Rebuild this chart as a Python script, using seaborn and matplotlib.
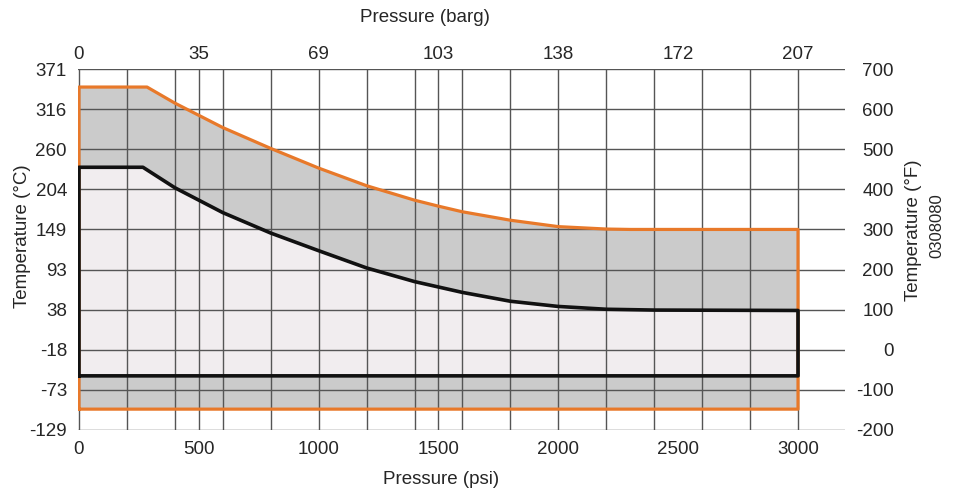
import numpy as np
import pandas as pd
import matplotlib
matplotlib.use("Agg")
import matplotlib.pyplot as plt
import seaborn as sns

# ---------------- data ----------------
psi_ticks = [0, 500, 1000, 1500, 2000, 2500, 3000]
psi_labels = ["0", "500", "1000", "1500", "2000", "2500", "3000"]
barg_labels = ["0", "35", "69", "103", "138", "172", "207"]
degF_ticks = [-200, -100, 0, 100, 200, 300, 400, 500, 600, 700]
degF_labels = ["-200", "-100", "0", "100", "200", "300", "400", "500", "600", "700"]
degC_labels = ["-129", "-73", "-18", "38", "93", "149", "204", "260", "316", "371"]

# outer (orange) envelope, °F
outer_psi = [0, 284, 400, 600, 800, 1000, 1200, 1400, 1500, 1600, 1800, 2000, 2200, 2300, 3000]
outer_top_F = [655, 655, 615, 554, 502, 453, 409, 373, 358, 344, 323, 307, 301, 300, 300]
outer_bottom_F = -148

# inner (black) envelope, °F
inner_psi = [0, 267, 400, 600, 800, 1000, 1200, 1400, 1600, 1800, 2000, 2200, 2400, 3000]
inner_top_F = [455, 455, 404, 342, 291, 247, 204, 170, 143, 121, 108, 101, 99, 98]
inner_bottom_F = -65

# vertical grid positions (psi)
grid_psi = [0, 200, 400, 500, 600, 800, 1000, 1200, 1400, 1500, 1600, 1800,
            2000, 2200, 2400, 2600, 2800, 3000]

# ---------------- style ----------------
sns.set_theme(style="white")
plt.rcParams["font.family"] = ["Liberation Sans", "DejaVu Sans"]
TXT = "#262626"
ORANGE = "#e8792a"
GRAY_FILL = "#cbcbcb"
INNER_FILL = "#f1edef"
GRID = "#555555"
FS = 13.5


def outline(psi, top, bottom):
    xs = [0] + list(psi) + [psi[-1], 0]
    ys = [bottom] + list(top) + [bottom, bottom]
    return pd.DataFrame({"psi": xs, "degF": ys})


fig = plt.figure(figsize=(9.62, 4.93), dpi=100)
ax = fig.add_axes([78 / 962, 1 - 430 / 493, (845 - 78) / 962, (430 - 69) / 493])

# fills
ax.fill_between(outer_psi, outer_bottom_F, outer_top_F, color=GRAY_FILL, lw=0, zorder=0.5)
ax.fill_between(inner_psi, inner_bottom_F, inner_top_F, color=INNER_FILL, lw=0, zorder=0.6)

# grid
for y in degF_ticks:
    ax.axhline(y, color=GRID, lw=1.0, zorder=1)
for x in grid_psi:
    ax.axvline(x, color=GRID, lw=1.0, zorder=1)

# outlines
sns.lineplot(data=outline(outer_psi, outer_top_F, outer_bottom_F), x="psi", y="degF",
             sort=False, estimator=None, color=ORANGE, lw=2.3, ax=ax, zorder=3,
             solid_joinstyle="round", solid_capstyle="projecting")
sns.lineplot(data=outline(inner_psi, inner_top_F, inner_bottom_F), x="psi", y="degF",
             sort=False, estimator=None, color="#111111", lw=2.6, ax=ax, zorder=4,
             solid_joinstyle="round", solid_capstyle="projecting")

ax.set_xlim(-4, 3196)
ax.set_ylim(-200, 700)
for s in ax.spines.values():
    s.set_visible(False)
ax.set_xlabel("")
ax.set_ylabel("")

ax.set_xticks(psi_ticks)
ax.set_xticklabels(psi_labels)
ax.set_yticks(degF_ticks)
ax.set_yticklabels(degC_labels)
ax.tick_params(axis="both", length=0, labelsize=FS, colors=TXT)
ax.tick_params(axis="x", pad=8)
ax.tick_params(axis="y", pad=8)

# right °F axis
ax2 = ax.twinx()
ax2.set_ylim(-200, 700)
ax2.set_yticks(degF_ticks)
ax2.set_yticklabels(degF_labels)
ax2.tick_params(axis="y", length=0, labelsize=FS, colors=TXT, pad=35)
for lbl in ax2.get_yticklabels():
    lbl.set_horizontalalignment("right")
for s in ax2.spines.values():
    s.set_visible(False)
ax2.grid(False)

# top barg axis
ax3 = ax.secondary_xaxis("top")
ax3.set_xticks(psi_ticks)
ax3.set_xticklabels(barg_labels)
ax3.tick_params(axis="x", length=0, labelsize=FS, colors=TXT, pad=4)
for s in ax3.spines.values():
    s.set_visible(False)

# axis titles
fig.text(441 / 962, 1 - 480 / 493, "Pressure (psi)", ha="center", va="center", fontsize=FS, color=TXT)
fig.text(425 / 962, 1 - 18 / 493, "Pressure (barg)", ha="center", va="center", fontsize=FS, color=TXT)
fig.text(23 / 962, 1 - 236 / 493, "Temperature (°C)", ha="center", va="center", rotation=90,
         fontsize=FS, color=TXT)
fig.text(914 / 962, 1 - 230 / 493, "Temperature (°F)", ha="center", va="center", rotation=90,
         fontsize=FS, color=TXT)
fig.text(937 / 962, 1 - 226 / 493, "0308080", ha="center", va="center", rotation=90,
         fontsize=FS - 1.5, color=TXT)

fig.savefig("out.png", dpi=100)
